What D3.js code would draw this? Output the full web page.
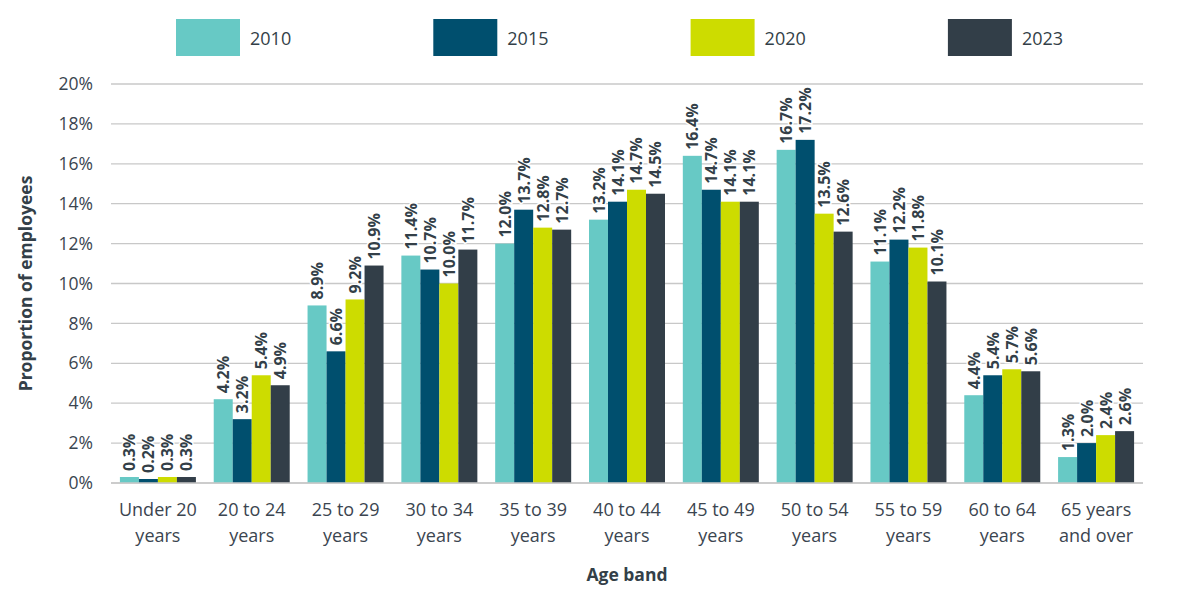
<!DOCTYPE html>
<html>
<head>
<meta charset="utf-8">
<script src="https://cdn.jsdelivr.net/npm/d3@7"></script>
<style>
  body { margin: 0; background: #fff; }
  text { font-family: "Open Sans", "Noto Sans", sans-serif; }
</style>
</head>
<body>
<svg id="chart" width="1187" height="598"></svg>
<script>
// Age band chart -- proportion of employees by year

var categories = [
  ["Under 20", "years"], ["20 to 24", "years"], ["25 to 29", "years"],
  ["30 to 34", "years"], ["35 to 39", "years"], ["40 to 44", "years"],
  ["45 to 49", "years"], ["50 to 54", "years"], ["55 to 59", "years"],
  ["60 to 64", "years"], ["65 years", "and over"]
];
var years = ["2010", "2015", "2020", "2023"];
var v2010 = [0.3, 4.2, 8.9, 11.4, 12.0, 13.2, 16.4, 16.7, 11.1, 4.4, 1.3];
var v2015 = [0.2, 3.2, 6.6, 10.7, 13.7, 14.1, 14.7, 17.2, 12.2, 5.4, 2.0];
var v2020 = [0.3, 5.4, 9.2, 10.0, 12.8, 14.7, 14.1, 13.5, 11.8, 5.7, 2.4];
var v2023 = [0.3, 4.9, 10.9, 11.7, 12.7, 14.5, 14.1, 12.6, 10.1, 5.6, 2.6];
var yTicks = [0, 2, 4, 6, 8, 10, 12, 14, 16, 18, 20];

var series = [v2010, v2015, v2020, v2023];
var colors = ["#67c9c5", "#004f6e", "#cddc00", "#323e48"];

var svg = d3.select("#chart");
var margin = { left: 111, right: 44, top: 84, bottom: 115 };
var W = 1187, H = 598;

var x = d3.scaleBand()
  .domain(d3.range(categories.length))
  .range([margin.left, W - margin.right])
  .paddingInner(0.19).paddingOuter(0.095);

var xi = d3.scaleBand()
  .domain(years)
  .range([0, x.bandwidth()]);

var y = d3.scaleLinear()
  .domain([0, 20])
  .range([H - margin.bottom, margin.top]);

///////////////////////////////////////////////////////////////////////////////
// Grid + y axis

svg.append("g").selectAll("line")
  .data(yTicks)
  .enter().append("line")
  .attr("x1", margin.left).attr("x2", W - margin.right)
  .attr("y1", function (d) { return y(d); })
  .attr("y2", function (d) { return y(d); })
  .attr("stroke", "#c8c8c8").attr("stroke-width", 1.3);

var yAxis = svg.append("g")
  .attr("transform", "translate(" + (margin.left - 15) + ",0)")
  .call(d3.axisLeft(y).tickValues(yTicks).tickSize(0)
    .tickFormat(function (d) { return d + "%"; }));
yAxis.select(".domain").remove();
yAxis.selectAll("text")
  .attr("font-size", 17.5).attr("fill", "#3b4550")
  .style("font-family", "'Open Sans', sans-serif");

///////////////////////////////////////////////////////////////////////////////
// Bars

var groups = svg.append("g").selectAll("g")
  .data(categories)
  .enter().append("g")
  .attr("transform", function (d, i) { return "translate(" + x(i) + ",0)"; });

years.forEach(function (yr, s) {
  groups.append("rect")
    .attr("x", xi(yr))
    .attr("width", xi.bandwidth())
    .attr("y", function (d, i) { return y(series[s][i]); })
    .attr("height", function (d, i) { return y(0) - y(series[s][i]); })
    .attr("fill", colors[s]);
});

// value labels, rotated, with a white halo
years.forEach(function (yr, s) {
  groups.append("text")
    .attr("transform", function (d, i) {
      var cx = xi(yr) + xi.bandwidth() / 2 + 6;
      return "translate(" + cx + "," + (y(series[s][i]) - 6) + ") rotate(-90)";
    })
    .attr("font-size", 16).attr("font-weight", "bold")
    .attr("fill", "#333f48")
    .attr("stroke", "#fff").attr("stroke-width", 3)
    .attr("paint-order", "stroke")
    .text(function (d, i) { return series[s][i].toFixed(1) + "%"; });
});

// x baseline
svg.append("line")
  .attr("x1", margin.left).attr("x2", W - margin.right)
  .attr("y1", y(0)).attr("y2", y(0))
  .attr("stroke", "#c8c8c8").attr("stroke-width", 1.3);

// category labels (two lines)
groups.append("text")
  .attr("x", x.bandwidth() / 2)
  .attr("y", 516)
  .attr("text-anchor", "middle")
  .attr("font-size", 18).attr("fill", "#3b4550")
  .selectAll("tspan")
  .data(function (d) { return d; })
  .enter().append("tspan")
  .attr("x", x.bandwidth() / 2)
  .attr("dy", function (d, i) { return i === 0 ? 0 : 26; })
  .text(function (d) { return d; });

///////////////////////////////////////////////////////////////////////////////
// Axis titles

svg.append("text")
  .attr("x", x.range()[0] + (x.range()[1] - x.range()[0]) / 2)
  .attr("y", 581)
  .attr("text-anchor", "middle")
  .attr("font-size", 17.5).attr("font-weight", "bold").attr("fill", "#333f48")
  .text("Age band");

svg.append("text")
  .attr("transform", "translate(32," + ((y(0) + y(20)) / 2) + ") rotate(-90)")
  .attr("text-anchor", "middle")
  .attr("font-size", 17.5).attr("font-weight", "bold").attr("fill", "#333f48")
  .text("Proportion of employees");

///////////////////////////////////////////////////////////////////////////////
// Legend

var legend = svg.append("g").selectAll("g")
  .data(years)
  .enter().append("g")
  .attr("transform", function (d, i) { return "translate(" + (176 + i * 257.3) + ",19)"; });

legend.append("rect")
  .attr("width", 64).attr("height", 37)
  .attr("fill", function (d, i) { return colors[i]; });

legend.append("text")
  .attr("x", 74).attr("y", 25.5)
  .attr("font-size", 18).attr("fill", "#333f48")
  .text(function (d) { return d; });
</script>
</body>
</html>
